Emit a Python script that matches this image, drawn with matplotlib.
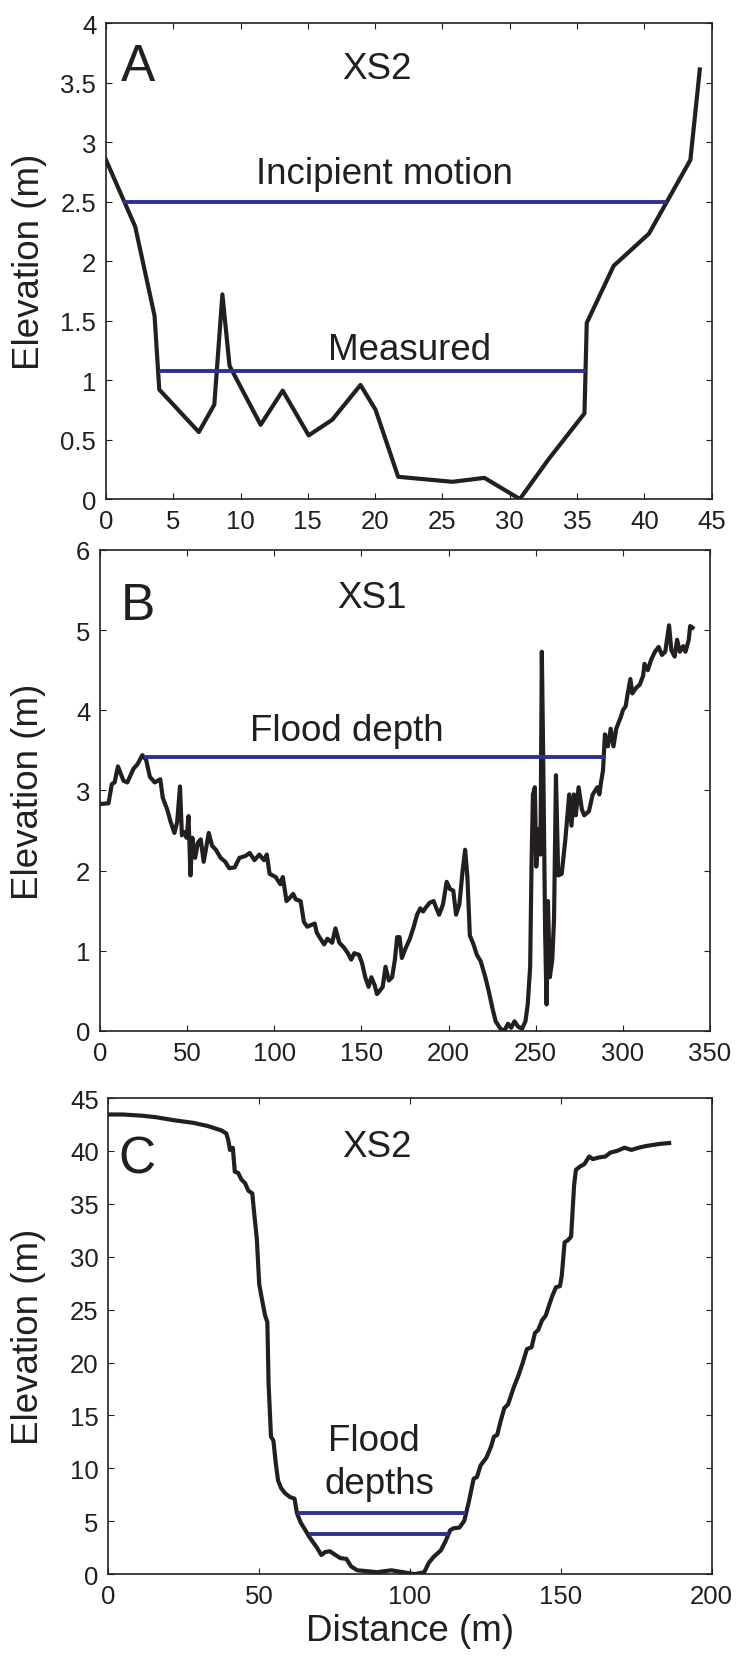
import matplotlib
matplotlib.use("Agg")
import matplotlib.pyplot as plt
from matplotlib.ticker import FormatStrFormatter

plt.rcParams['font.family'] = ['Liberation Sans', 'DejaVu Sans']

# Panel A - XS2 (survey points)
a_dist = [0, 2.17, 3.61, 3.96, 6.9, 8.05, 8.65, 9.18, 11.49, 13.13, 15.06, 16.81,
          18.91, 20.03, 21.71, 25.74, 28.12, 30.75, 32.92, 35.55, 35.72, 37.72,
          40.34, 43.42, 44.12]
a_elev = [2.85, 2.29, 1.54, 0.92, 0.563, 0.794, 1.72, 1.12, 0.624, 0.911, 0.535, 0.666,
          0.959, 0.75, 0.187, 0.145, 0.178, 0.0, 0.34, 0.72, 1.48, 1.96,
          2.23, 2.85, 3.61]
a_incipient = (1.3, 41.7, 2.5)
a_measured = (3.96, 35.65, 1.08)

# Panel B - XS1
b_dist = [0, 4.9, 6.8, 8.4, 10.3, 13.5, 15.7, 19.2, 21.6, 24.3, 26.5, 28.6, 31.4, 34.6,
          36.0, 38.6, 40.5, 42.7, 44.3, 45.9, 47.0, 48.6, 49.7, 50.8, 51.9, 53.0, 54.6,
          56.2, 57.8, 59.5, 61.1, 62.4, 64.3, 66.5, 69.2, 71.9, 74.1, 77.3, 80.0, 83.2,
          85.9, 88.6, 91.4, 94.1, 95.7, 97.3, 100.8, 103.5, 104.9, 107.0, 108.9, 110.8,
          112.4, 115.1, 117.0, 118.9, 121.1, 123.2, 124.3, 125.9, 128.6, 130.5, 133.2,
          135.1, 137.3, 140.0, 142.2, 144.1, 145.9, 148.6, 150.3, 152.2, 154.1, 155.7,
          157.6, 158.9, 160.5, 162.2, 163.8, 165.7, 167.6, 169.2, 170.5, 171.9, 173.2,
          175.1, 177.8, 180.0, 181.9, 183.8, 185.4, 187.3, 189.2, 191.4, 193.0, 194.6,
          196.8, 198.9, 200.8, 202.7, 204.3, 206.2, 208.1, 209.5, 210.8, 212.2, 214.3,
          216.2, 218.4, 221.1, 223.2, 225.1, 227.0, 229.7, 231.9, 234.1, 235.9, 237.8,
          240.0, 242.2, 244.1, 245.4, 246.8, 247.6, 248.4, 249.5, 250.3, 251.6, 252.7,
          253.5, 254.3, 255.4, 256.2, 257.0, 258.1, 259.5, 260.5, 261.6, 262.9, 264.9,
          267.0, 269.2, 270.5, 271.9, 273.0, 274.6, 276.5, 277.8, 280.5, 282.7, 285.4,
          286.5, 287.6, 288.6, 289.7, 291.4, 293.0, 294.6, 296.2, 297.6, 298.9, 300.0,
          301.6, 302.7, 304.3, 305.4, 307.6, 309.7, 311.6, 312.4, 314.3, 316.2, 318.4,
          320.5, 322.4, 324.3, 326.5, 327.8, 329.7, 331.1, 332.7, 334.6, 335.9, 337.8,
          338.6, 340.0]
b_elev = [2.83, 2.84, 3.08, 3.10, 3.30, 3.12, 3.10, 3.27, 3.33, 3.44, 3.38, 3.17, 3.10, 3.14,
          2.91, 2.76, 2.61, 2.47, 2.61, 3.05, 2.44, 2.48, 2.41, 2.68, 1.94, 2.41, 2.16,
          2.35, 2.39, 2.11, 2.31, 2.47, 2.31, 2.26, 2.16, 2.11, 2.03, 2.04, 2.16, 2.18,
          2.22, 2.13, 2.20, 2.13, 2.20, 1.96, 1.92, 1.83, 1.92, 1.62, 1.66, 1.71,
          1.64, 1.62, 1.36, 1.30, 1.32, 1.34, 1.23, 1.17, 1.08, 1.15, 1.10,
          1.28, 1.10, 1.04, 0.97, 0.89, 0.97, 0.95, 0.85, 0.67, 0.55, 0.67,
          0.57, 0.46, 0.50, 0.55, 0.80, 0.63, 0.67, 0.89, 1.17, 1.17, 0.91,
          1.02, 1.15, 1.30, 1.45, 1.53, 1.49, 1.55, 1.60, 1.62, 1.53, 1.45,
          1.58, 1.86, 1.77, 1.75, 1.45, 1.58, 2.01, 2.26, 1.92, 1.19, 1.08,
          0.95, 0.87, 0.67, 0.48, 0.29, 0.12, 0.03, 0.0, 0.09, 0.04, 0.12,
          0.05, 0.03, 0.12, 0.33, 0.80, 2.09, 2.95, 3.04, 2.05, 2.52, 2.20,
          4.73, 3.38, 1.23, 0.33, 1.62, 0.67, 0.89, 1.40, 3.19, 1.94, 1.96,
          2.39, 2.95, 2.56, 2.95, 2.69, 3.04, 2.76, 2.69, 2.74, 2.95, 3.04,
          2.95, 3.12, 3.25, 3.70, 3.55, 3.77, 3.55, 3.77, 3.85, 3.92, 4.00,
          4.05, 4.20, 4.39, 4.21, 4.28, 4.32, 4.43, 4.58, 4.50, 4.63, 4.73,
          4.79, 4.69, 4.73, 5.06, 4.75, 4.67, 4.88, 4.73, 4.80, 4.73, 4.88,
          5.05, 5.03]
b_flood = (25.1, 289.5, 3.42)

# Panel C - XS2
c_dist = [0, 4.7, 10.9, 15.6, 21.9, 28.1, 32.8, 37.5, 39.1, 39.8, 40.3, 41.25, 41.9, 43.0,
          44.1, 45.3, 46.4, 47.7, 48.4, 49.2, 50.0, 50.8, 51.9, 52.7, 53.1, 53.9, 54.7,
          55.5, 56.25, 57.3, 58.6, 60.2, 61.7, 62.5, 63.75, 65.3, 66.4, 67.97, 69.1,
          70.6, 71.9, 73.4, 75.3, 76.9, 78.9, 80.5, 82.5, 85.2, 89.1, 93.75, 97.7,
          101.6, 104.7, 106.25, 107.8, 110.2, 111.7, 113.3, 114.4, 116.4, 118.0, 119.5,
          121.1, 122.2, 123.4, 125.3, 126.9, 127.8, 128.9, 130.0, 131.25, 132.5, 134.4,
          135.9, 137.2, 138.75, 140.3, 141.4, 142.5, 143.75, 145.0, 146.1, 147.2, 148.4,
          149.7, 150.3, 151.25, 152.3, 153.4, 154.4, 155.0, 156.25, 157.8, 159.4, 160.6,
          162.5, 164.8, 166.4, 168.75, 171.1, 173.4, 175.8, 178.1, 180.5, 182.8, 185.9]
c_elev = [43.45, 43.45, 43.34, 43.2, 42.9, 42.66, 42.37, 41.94, 41.65, 40.93, 40.1, 40.3,
          38.04, 37.93, 37.3, 36.96, 36.24, 35.99, 33.9, 31.73, 27.4, 26.14, 24.5, 23.8,
          18.03, 12.98, 12.62, 10.46, 8.83, 8.11, 7.64, 7.28, 7.14, 5.77, 4.87, 4.15,
          3.61, 2.96, 2.52, 1.80, 2.09, 2.16, 1.80, 1.51, 1.44, 0.72, 0.36, 0.29, 0.18,
          0.36, 0.18, 0.0, 0.18, 1.08, 1.62, 2.24, 3.06, 4.15, 4.33, 4.4, 5.05, 6.85,
          9.01, 9.19, 10.28, 11.0, 12.08, 12.98, 13.16, 14.42, 15.69, 16.05, 17.67,
          18.75, 19.83, 21.27, 21.45, 22.79, 23.08, 23.98, 24.45, 25.42, 26.32, 27.12,
          27.22, 28.2, 31.37, 31.55, 31.91, 36.78, 38.22, 38.51, 38.76, 39.48, 39.23,
          39.38, 39.48, 39.84, 40.02, 40.31, 40.1, 40.31, 40.46, 40.57, 40.67, 40.75]
c_flood_upper = (62.5, 118.4, 5.77)
c_flood_lower = (66.4, 112.8, 3.75)

ink = '#231f20'
blue = '#2e3192'

fig = plt.figure(figsize=(7.39, 16.58), dpi=100)
axA = fig.add_axes([0.1434, 0.6984, 0.8196, 0.2871])
axB = fig.add_axes([0.1353, 0.3776, 0.8255, 0.2901])
axC = fig.add_axes([0.1467, 0.0500, 0.8163, 0.2871])


def style(ax, xlim, ylim, xstep, ystep, label_x):
    ax.set_xlim(*xlim)
    ax.set_ylim(*ylim)
    ax.set_xticks([xlim[0] + i * xstep for i in range(int(round((xlim[1] - xlim[0]) / xstep)) + 1)])
    ax.set_yticks([ylim[0] + i * ystep for i in range(int(round((ylim[1] - ylim[0]) / ystep)) + 1)])
    ax.xaxis.set_major_formatter(FormatStrFormatter('%g'))
    ax.yaxis.set_major_formatter(FormatStrFormatter('%g'))
    ax.tick_params(direction='in', top=True, right=True, length=4.5, width=0.8,
                   labelsize=18.5, pad=7, colors=ink, labelcolor=ink)
    for s in ax.spines.values():
        s.set_linewidth(1.2)
        s.set_color(ink)
    ax.set_ylabel('Elevation (m)', fontsize=26.5, color=ink, va='center')
    ax.yaxis.set_label_coords(label_x, 0.5)


def note(ax, x, y, s, size=26.5):
    ax.text(x, y, s, transform=ax.transAxes, fontsize=size, ha='center', va='baseline', color=ink)


LW = 3.0
BLW = 2.8

# Panel A
axA.plot(a_dist, a_elev, color=ink, lw=LW)
axA.plot(a_incipient[:2], [a_incipient[2]] * 2, color=blue, lw=BLW, solid_capstyle='butt')
axA.plot(a_measured[:2], [a_measured[2]] * 2, color=blue, lw=BLW, solid_capstyle='butt')
style(axA, (0, 45), (0, 4), 5, 0.5, -0.126)
note(axA, 0.0525, 0.881, 'A', 37)
note(axA, 0.4475, 0.885, 'XS2')
note(axA, 0.46, 0.664, 'Incipient motion')
note(axA, 0.502, 0.294, 'Measured')

# Panel B
axB.plot(b_dist, b_elev, color=ink, lw=LW)
axB.plot(b_flood[:2], [b_flood[2]] * 2, color=blue, lw=BLW, solid_capstyle='butt')
style(axB, (0, 350), (0, 6), 50, 1, -0.117)
note(axB, 0.063, 0.857, 'B', 37)
note(axB, 0.446, 0.882, 'XS1')
note(axB, 0.4046, 0.604, 'Flood depth')

# Panel C
axC.plot(c_dist, c_elev, color=ink, lw=LW)
axC.plot(c_flood_upper[:2], [c_flood_upper[2]] * 2, color=blue, lw=BLW, solid_capstyle='butt')
axC.plot(c_flood_lower[:2], [c_flood_lower[2]] * 2, color=blue, lw=BLW, solid_capstyle='butt')
style(axC, (0, 200), (0, 45), 50, 5, -0.132)
note(axC, 0.047, 0.844, 'C', 37)
note(axC, 0.4445, 0.879, 'XS2')
note(axC, 0.44, 0.2605, 'Flood')
note(axC, 0.449, 0.170, 'depths')
axC.set_xlabel('Distance (m)', fontsize=26.5, color=ink, labelpad=4)

fig.savefig('out.png', dpi=100)
